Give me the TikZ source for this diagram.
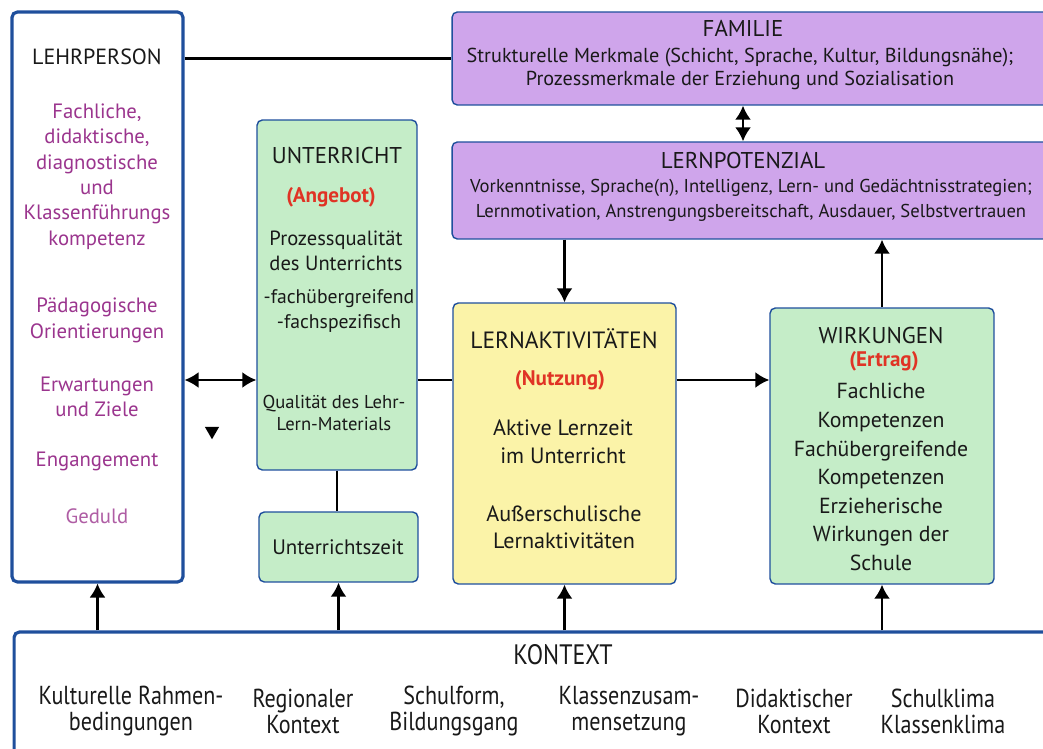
\documentclass[tikz,border=0pt]{standalone}
\usepackage{fontspec}
\setmainfont{PT Sans}
\newfontfamily\schmal[FakeStretch=0.85]{PT Sans}
\usetikzlibrary{arrows.meta,shapes.geometric}
\definecolor{rahmenblau}{HTML}{1F4F9C}
\definecolor{lila}{HTML}{CFA5EB}
\definecolor{gruen}{HTML}{C5EDC8}
\definecolor{gelb}{HTML}{FBF3A8}
\definecolor{textlila}{HTML}{9B358E}
\definecolor{angebotrot}{HTML}{E03325}
\def\spitze{Latex[length=2.8mm,width=3.2mm]}
\tikzset{
  feld/.style={draw=rahmenblau,line width=0.8pt,rounded corners=3pt,inner sep=0pt},
  weiss/.style={feld,fill=white,line width=1.8pt},
  titel/.style={font=\fontsize{13}{15}\selectfont,text=black!90},
  inhalt/.style={align=center,text=black!90,font=\fontsize{11}{16}\selectfont},
  lilatext/.style={align=center,text=textlila,font=\fontsize{11.8}{14.4}\selectfont},
  rot/.style={text=angebotrot,font=\bfseries\fontsize{12}{13}\selectfont},
  pfeil/.style={line width=1.3pt,-{\spitze}},
  doppel/.style={line width=1.3pt,{\spitze}-{\spitze}},
  linie/.style={line width=1.3pt}
}

\begin{document}
\begin{tikzpicture}[x=0.02cm,y=-0.02cm]
  \useasboundingbox (0,0) rectangle (1043,749);
  \clip (0,0) rectangle (1043,749);
  % Kaesten
  \node[weiss,minimum width=3.42cm,minimum height=11.4cm] (lehr) at (97.5,297) {};
  \node[feld,fill=lila,minimum width=12.06cm,minimum height=1.86cm] (fam) at (753.5,58.5) {};
  \node[feld,fill=lila,minimum width=12.06cm,minimum height=1.94cm] (pot) at (753.5,190.5) {};
  \node[feld,fill=gruen,minimum width=3.2cm,minimum height=7cm] (unt) at (337,295) {};
  \node[feld,fill=gruen,minimum width=3.18cm,minimum height=1.4cm] (zeit) at (338.5,547) {};
  \node[feld,fill=gelb,minimum width=4.46cm,minimum height=5.62cm] (akt) at (564.5,443.5) {};
  \node[feld,fill=gruen,minimum width=4.48cm,minimum height=5.52cm] (wirk) at (882,446) {};
  \node[weiss,minimum width=20.82cm,minimum height=2.56cm] (kon) at (534.5,696) {};
  % Lehrperson
  \node[titel,font=\fontsize{12.5}{15}\selectfont] (lehrkopf) at (97,57) {LEHRPERSON};
  \node[lilatext] (kompetenz) at (97,176.5) {Fachliche,\\didaktische,\\diagnostische\\und\\Klassenführungs\\kompetenz};
  \node[lilatext] (orient) at (97,320.5) {Pädagogische\\Orientierungen};
  \node[lilatext] (ziele) at (97,397) {Erwartungen\\und Ziele};
  \node[lilatext] (engag) at (97,461) {Engangement};
  \node[lilatext,text=textlila!80] (geduld) at (97,516) {Geduld};
  \node[regular polygon,regular polygon sides=3,shape border rotate=180,fill=black,inner sep=0pt,minimum size=0.33cm] (dreieck) at (212,431) {};
  % Unterricht
  \node[titel] (untkopf) at (337,156) {UNTERRICHT};
  \node[rot] (angebot) at (331,197) {(Angebot)};
  \node[inhalt,font=\fontsize{11.7}{14.2}\selectfont] (prozess) at (336,250.5) {Prozessqualität\\des Unterrichts};
  \node[inhalt,font=\fontsize{11.2}{14.7}\selectfont] (fach) at (339,311) {-fachübergreifend\\-fachspezifisch};
  \node[inhalt,font=\fontsize{10.6}{12.5}\selectfont] (material) at (334,413) {Qualität des Lehr-\\Lern-Materials};
  \node[inhalt,font=\fontsize{11.9}{14}\selectfont] (zeittext) at (338,547) {Unterrichtszeit};
  % Familie und Lernpotenzial
  \node[titel] (famkopf) at (743,28) {FAMILIE};
  \node[inhalt,font=\fontsize{11.5}{13.6}\selectfont] (famtext) at (740,69) {Strukturelle Merkmale (Schicht, Sprache, Kultur, Bildungsnähe);\\Prozessmerkmale der Erziehung und Sozialisation};
  \node[titel] (potkopf) at (743,161) {LERNPOTENZIAL};
  \node[inhalt,font=\fontsize{10.6}{14.2}\selectfont] (pottext) at (751,200.5) {Vorkenntnisse, Sprache(n), Intelligenz, Lern- und Gedächtnisstrategien;\\Lernmotivation, Anstrengungsbereitschaft, Ausdauer, Selbstvertrauen};
  % Lernaktivitaeten
  \node[titel,font=\fontsize{13.4}{15}\selectfont] (aktkopf) at (564,339) {LERNAKTIVITÄTEN};
  \node[rot] (nutzung) at (560,380) {(Nutzung)};
  \node[inhalt,font=\fontsize{12.6}{15.9}\selectfont] (lernzeit) at (563,442) {Aktive Lernzeit\\im Unterricht};
  \node[inhalt,font=\fontsize{12.6}{15.3}\selectfont] (ausser) at (564,527.5) {Außerschulische\\Lernaktivitäten};
  % Wirkungen
  \node[titel] (wirkkopf) at (881,336) {WIRKUNGEN};
  \node[rot] (ertrag) at (884,361) {(Ertrag)};
  \node[inhalt,font=\fontsize{12.4}{16.25}\selectfont] (ertraege) at (881,477) {Fachliche\\Kompetenzen\\Fachübergreifende\\Kompetenzen\\Erzieherische\\Wirkungen der\\Schule};
  % Kontext
  \node[titel,font=\schmal\fontsize{16}{18}\selectfont] (konkopf) at (563,655) {KONTEXT};
  \foreach \x/\txt [count=\i] in {131/{Kulturelle Rahmen-\\bedingungen},303/{Regionaler\\Kontext},454/{Schulform,\\Bildungsgang},629/{Klassenzusam-\\mensetzung},794/{Didaktischer\\Kontext},943/{Schulklima\\Klassenklima}}
    \node[inhalt,font=\schmal\fontsize{14.8}{14.8}\selectfont] (kon\i) at (\x,711) {\txt};
  % Verbindungen
  \coordinate (mitte) at (0,380);
  \coordinate (famachse) at (743,0);
  \draw[linie] (lehr.east |- fam.west) -- (fam.west);
  \draw[doppel] (lehr.east |- mitte) -- (unt.west |- mitte);
  \draw[linie] (unt.east |- mitte) -- (akt.west |- mitte);
  \draw[pfeil] (akt.east |- mitte) -- (wirk.west |- mitte);
  \draw[doppel] (fam.south -| famachse) -- (pot.north -| famachse);
  \draw[pfeil] (pot.south -| akt.north) -- (akt.north);
  \draw[pfeil] (wirk.north) -- (wirk.north |- pot.south);
  \draw[linie] (unt.south) -- (unt.south |- zeit.north);
  \foreach \ziel in {lehr,zeit,akt,wirk}
    \draw[pfeil] (kon.north -| \ziel.south) -- (\ziel.south);
\end{tikzpicture}
\end{document}
